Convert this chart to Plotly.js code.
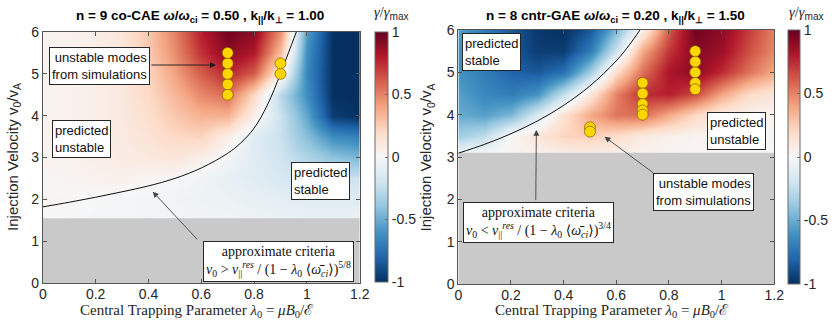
<!DOCTYPE html>
<html><head><meta charset="utf-8">
<script src="https://cdn.plot.ly/plotly-3.0.1.min.js"></script>
<style>html,body{margin:0;padding:0;background:#fff;overflow:hidden}#plot{width:832px;height:320px}</style>
</head><body><div id="plot"></div>
<script>
// ---- data ----
const lambda0 = [0, 0.1, 0.2, 0.3, 0.4, 0.5, 0.6, 0.7, 0.8, 0.9, 1.0, 1.1, 1.2];

// left panel: n = 9 co-CAE, growth rate gamma/gamma_max
const v0Left = [1.5, 2.0, 2.5, 3.0, 3.5, 4.0, 4.5, 5.0, 5.5, 6.0];
const gammaLeft = [
  [0.00,-0.01,-0.02,-0.02,-0.03,-0.03,-0.04,-0.04,-0.05,-0.06,-0.07,-0.07,-0.07],
  [0.02, 0.01,-0.01,-0.02,-0.03,-0.04,-0.05,-0.06,-0.08,-0.10,-0.12,-0.12,-0.12],
  [0.02, 0.03, 0.04, 0.05, 0.02, 0.00,-0.04,-0.08,-0.12,-0.16,-0.20,-0.22,-0.22],
  [0.03, 0.04, 0.06, 0.08, 0.10, 0.12, 0.06,-0.03,-0.12,-0.20,-0.30,-0.40,-0.45],
  [0.03, 0.04, 0.06, 0.09, 0.14, 0.20, 0.22, 0.06,-0.12,-0.22,-0.42,-0.62,-0.68],
  [0.03, 0.04, 0.06, 0.10, 0.17, 0.27, 0.35, 0.35, 0.06,-0.22,-0.52,-0.95,-1.00],
  [0.03, 0.04, 0.06, 0.10, 0.20, 0.33, 0.48, 0.56, 0.20,-0.28,-0.62,-1.00,-1.00],
  [0.03, 0.04, 0.06, 0.11, 0.22, 0.40, 0.60, 0.76, 0.60, 0.05,-0.65,-1.00,-1.00],
  [0.03, 0.04, 0.06, 0.12, 0.26, 0.47, 0.72, 0.90, 0.80, 0.30,-0.62,-1.00,-1.00],
  [0.03, 0.04, 0.06, 0.12, 0.28, 0.50, 0.78, 0.97, 0.90, 0.45,-0.56,-1.00,-1.00]
];
const critLeftX = [0, 0.1, 0.2, 0.3, 0.4, 0.5, 0.6, 0.7, 0.75, 0.8, 0.85, 0.9, 0.93, 0.96];
const critLeftY = [1.82, 1.93, 2.05, 2.18, 2.32, 2.5, 2.75, 3.1, 3.35, 3.7, 4.25, 5.0, 5.5, 6.0];
const simLeftX = [0.7, 0.7, 0.7, 0.7, 0.7, 0.9, 0.9];
const simLeftY = [4.5, 4.75, 5.0, 5.25, 5.5, 5.0, 5.25];
const floorLeft = 1.55;

// right panel: n = 8 cntr-GAE
const v0Right = [3.0, 3.5, 4.0, 4.5, 5.0, 5.5, 6.0];
const gammaRight = [
  [ 0.05, 0.04, 0.03, 0.02, 0.03, 0.03, 0.03, 0.02, 0.02, 0.02, 0.02, 0.01, 0.01],
  [-0.35,-0.25, 0.02, 0.12, 0.22, 0.25, 0.18, 0.09, 0.05, 0.03, 0.02, 0.02, 0.01],
  [-0.50,-0.55,-0.45,-0.15, 0.15, 0.38, 0.54, 0.56, 0.38, 0.20, 0.08, 0.04, 0.03],
  [-0.55,-0.65,-0.70,-0.60,-0.25, 0.12, 0.50, 0.74, 0.78, 0.66, 0.40, 0.20, 0.12],
  [-0.60,-0.70,-0.80,-0.85,-0.75,-0.35, 0.18, 0.55, 0.82, 0.90, 0.75, 0.55, 0.38],
  [-0.60,-0.72,-0.85,-0.95,-0.95,-0.70,-0.20, 0.38, 0.72, 0.92, 0.86, 0.65, 0.48],
  [-0.55,-0.70,-0.85,-0.97,-1.00,-0.85,-0.45, 0.05, 0.62, 0.97, 0.90, 0.70, 0.50]
];
const critRightX = [0, 0.1, 0.2, 0.3, 0.4, 0.5, 0.6, 0.65, 0.69];
const critRightY = [3.09, 3.3, 3.55, 3.85, 4.22, 4.68, 5.27, 5.65, 6.0];
const simRightX = [0.5, 0.5, 0.7, 0.7, 0.7, 0.7, 0.7, 0.9, 0.9, 0.9, 0.9, 0.9];
const simRightY = [3.7, 3.6, 4.75, 4.5, 4.25, 4.1, 4.0, 5.5, 5.25, 5.0, 4.75, 4.6];
const floorRight = 3.1;

const xRange = [0, 1.2];
const yRange = [0, 6];
const xTickVals = [0, 0.2, 0.4, 0.6, 0.8, 1, 1.2];
const xTickText = ['0', '0.2', '0.4', '0.6', '0.8', '1', '1.2'];
const yTickVals = [0, 1, 2, 3, 4, 5, 6];
const cbTickVals = [-1, -0.5, 0, 0.5, 1];
const cbTickText = ['-1', '-0.5', '0', '0.5', '1'];

// ---- styling ----
const W = 832, H = 320;
const px = p => p / W;
const py = p => 1 - p / H;
const SANS = 'Liberation Sans, Arial, Helvetica, sans-serif';
const SERIF = 'Liberation Serif, DejaVu Serif, Times New Roman, serif';
const TXT = '#262626';
const GREY = '#c9c9c9';
const rdbu = [
  [0.0, '#053061'], [0.1, '#2166ac'], [0.2, '#4393c3'], [0.3, '#92c5de'],
  [0.4, '#d1e5f0'], [0.5, '#f7f7f7'], [0.6, '#fddbc7'], [0.7, '#f4a582'],
  [0.8, '#d6604d'], [0.9, '#b2182b'], [1.0, '#67001f']
];

function cbar(xPix, thick, yTop, yBot) {
  return {
    x: px(xPix), xanchor: 'left', xpad: 0, thickness: thick, thicknessmode: 'pixels',
    y: py((yTop + yBot) / 2), yanchor: 'middle', ypad: 0,
    len: (yBot - yTop) / H, lenmode: 'fraction',
    outlinewidth: 1, outlinecolor: '#6b6b6b',
    tickvals: cbTickVals, ticktext: cbTickText,
    ticks: 'inside', ticklen: 3, tickcolor: '#6b6b6b',
    tickfont: {family: SANS, size: 14, color: TXT}
  };
}

function panel(xa, ya, v0, gamma, floor, cx, cy, sx, sy, cb) {
  return [
    {type: 'heatmap', x: lambda0, y: v0, z: gamma, xaxis: xa, yaxis: ya,
     zmin: -1, zmax: 1, zsmooth: 'best', colorscale: rdbu, colorbar: cb, hoverinfo: 'skip'},
    {type: 'scatter', mode: 'lines', xaxis: xa, yaxis: ya,
     x: [xRange[0], xRange[1], xRange[1], xRange[0], xRange[0]],
     y: [yRange[0], yRange[0], floor, floor, yRange[0]],
     fill: 'toself', fillcolor: GREY, line: {width: 0, color: GREY}, hoverinfo: 'skip', showlegend: false},
    {type: 'scatter', mode: 'lines', xaxis: xa, yaxis: ya, x: cx, y: cy,
     line: {color: '#111', width: 1, shape: 'spline'}, hoverinfo: 'skip', showlegend: false},
    {type: 'scatter', mode: 'markers', xaxis: xa, yaxis: ya, x: sx, y: sy,
     marker: {size: 11, color: '#ffd500', line: {color: '#8a6a00', width: 0.8}},
     hoverinfo: 'skip', showlegend: false}
  ];
}

const data = [].concat(
  panel('x', 'y', v0Left, gammaLeft, floorLeft, critLeftX, critLeftY, simLeftX, simLeftY, cbar(376, 13, 32, 282)),
  panel('x2', 'y2', v0Right, gammaRight, floorRight, critRightX, critRightY, simRightX, simRightY, cbar(791, 12, 30, 284))
);

function xax(domain) {
  return {domain: domain, range: xRange, tickvals: xTickVals, ticktext: xTickText,
    ticks: 'inside', ticklen: 4, tickcolor: '#555', showline: true, linecolor: '#555', linewidth: 1,
    mirror: 'ticks', showgrid: false, zeroline: false, fixedrange: true, ticklabelstandoff: -2,
    tickfont: {family: SANS, size: 14, color: TXT}};
}
function yax(domain, anchor) {
  return {domain: domain, range: yRange, tickvals: yTickVals, anchor: anchor,
    ticks: 'inside', ticklen: 4, tickcolor: '#555', showline: true, linecolor: '#555', linewidth: 1,
    mirror: 'ticks', showgrid: false, zeroline: false, fixedrange: true,
    tickfont: {family: SANS, size: 14, color: TXT}};
}

function note(text, x, y, xanchor, yanchor, font, extra) {
  return Object.assign({text: text, x: px(x), y: py(y), xref: 'paper', yref: 'paper',
    xanchor: xanchor, yanchor: yanchor, showarrow: false, font: font}, extra || {});
}
function box(text, x, y, xanchor, align, font) {
  return note(text, x, y, xanchor, 'top', font,
    {align: align, bgcolor: '#ffffff', bordercolor: '#262626', borderwidth: 1, borderpad: 2});
}
function arrow(hx, hy, tx, ty, color) {
  return {text: '', x: px(hx), y: py(hy), xref: 'paper', yref: 'paper',
    ax: tx - hx, ay: ty - hy, axref: 'pixel', ayref: 'pixel', showarrow: true,
    arrowhead: 2, arrowsize: 1.3, arrowwidth: 0.9, arrowcolor: color, standoff: 0, startstandoff: 0};
}

const boxFont = {family: SANS, size: 13, color: '#111'};
const mathFont = {family: SERIF, size: 14, color: '#111'};
const titleFont = {family: SANS, size: 13.5, color: '#000'};
const axFont = {family: SANS, size: 15, color: TXT};
const xtFont = {family: SERIF, size: 15, color: TXT};

const yTitle = 'Injection Velocity v<sub>0</sub>/v<sub>A</sub>';
const xTitle = 'Central Trapping Parameter <i>λ</i><sub>0</sub> = <i>μB</i><sub>0</sub>/ℰ';
const cbTitle = '<span style="font-family:Liberation Serif"><i>γ</i>/<i>γ</i></span><sub>max</sub>';

const annotations = [
  note('<b>n = 9 co-CAE <i>ω</i>/<i>ω</i><sub>ci</sub> = 0.50 , k<sub>||</sub>/k<sub>⊥</sub> = 1.00</b>', 201, 16, 'center', 'middle', titleFont),
  note('<b>n = 8 cntr-GAE <i>ω</i>/<i>ω</i><sub>ci</sub> = 0.20 , k<sub>||</sub>/k<sub>⊥</sub> = 1.50</b>', 618, 16, 'center', 'middle', titleFont),
  note(yTitle, 13, 157, 'center', 'middle', axFont, {textangle: -90}),
  note(yTitle, 428, 157, 'center', 'middle', axFont, {textangle: -90}),
  note(xTitle, 198, 311, 'center', 'middle', xtFont),
  note(xTitle, 614, 311, 'center', 'middle', xtFont),
  note(cbTitle, 393, 13, 'center', 'middle', {family: SANS, size: 14.5, color: TXT}),
  note(cbTitle, 809, 13, 'center', 'middle', {family: SANS, size: 14.5, color: TXT}),

  arrow(216.7, 65, 150.7, 65, '#1a1a1a'),
  arrow(153.3, 191.7, 199.3, 241, '#444'),
  arrow(538.3, 130, 537.7, 201.7, '#444'),
  arrow(606.7, 136.7, 657, 174, '#444'),

  box('unstable modes<br>from simulations', 150.7, 46.7, 'right', 'right', boxFont),
  box('predicted<br>unstable', 51.7, 120, 'left', 'left', boxFont),
  box('predicted<br>stable', 292.3, 161.7, 'left', 'left', boxFont),
  box('approximate criteria<br><i>v</i><sub>0</sub> &gt; <i>v</i><sub>||</sub><sup><i>res</i></sup> / (1 − <i>λ</i><sub>0</sub> ⟨<i>ω̄</i><sub><i>ci</i></sub>⟩)<sup>5/8</sup>', 355, 240.7, 'right', 'center', mathFont),
  box('predicted<br>stable', 463.3, 33.3, 'left', 'left', boxFont),
  box('predicted<br>unstable', 710, 112.3, 'left', 'left', boxFont),
  box('unstable modes<br>from simulations', 756.7, 173.3, 'right', 'right', boxFont),
  box('approximate criteria<br><i>v</i><sub>0</sub> &lt; <i>v</i><sub>||</sub><sup><i>res</i></sup> / (1 − <i>λ</i><sub>0</sub> ⟨<i>ω̄</i><sub><i>ci</i></sub>⟩)<sup>3/4</sup>', 464.3, 201.7, 'left', 'center', mathFont)
];

const layout = {
  width: W, height: H, margin: {l: 0, r: 0, t: 0, b: 0},
  paper_bgcolor: '#ffffff', plot_bgcolor: '#ffffff', showlegend: false,
  font: {family: SANS, color: TXT},
  xaxis: xax([px(43), px(361)]),
  yaxis: yax([py(283), py(32)], 'x'),
  xaxis2: Object.assign(xax([px(460), px(777)]), {anchor: 'y2'}),
  yaxis2: yax([py(284), py(30)], 'x2'),
  annotations: annotations
};

Plotly.newPlot('plot', data, layout, {displayModeBar: false, staticPlot: true});
</script>
</body></html>
